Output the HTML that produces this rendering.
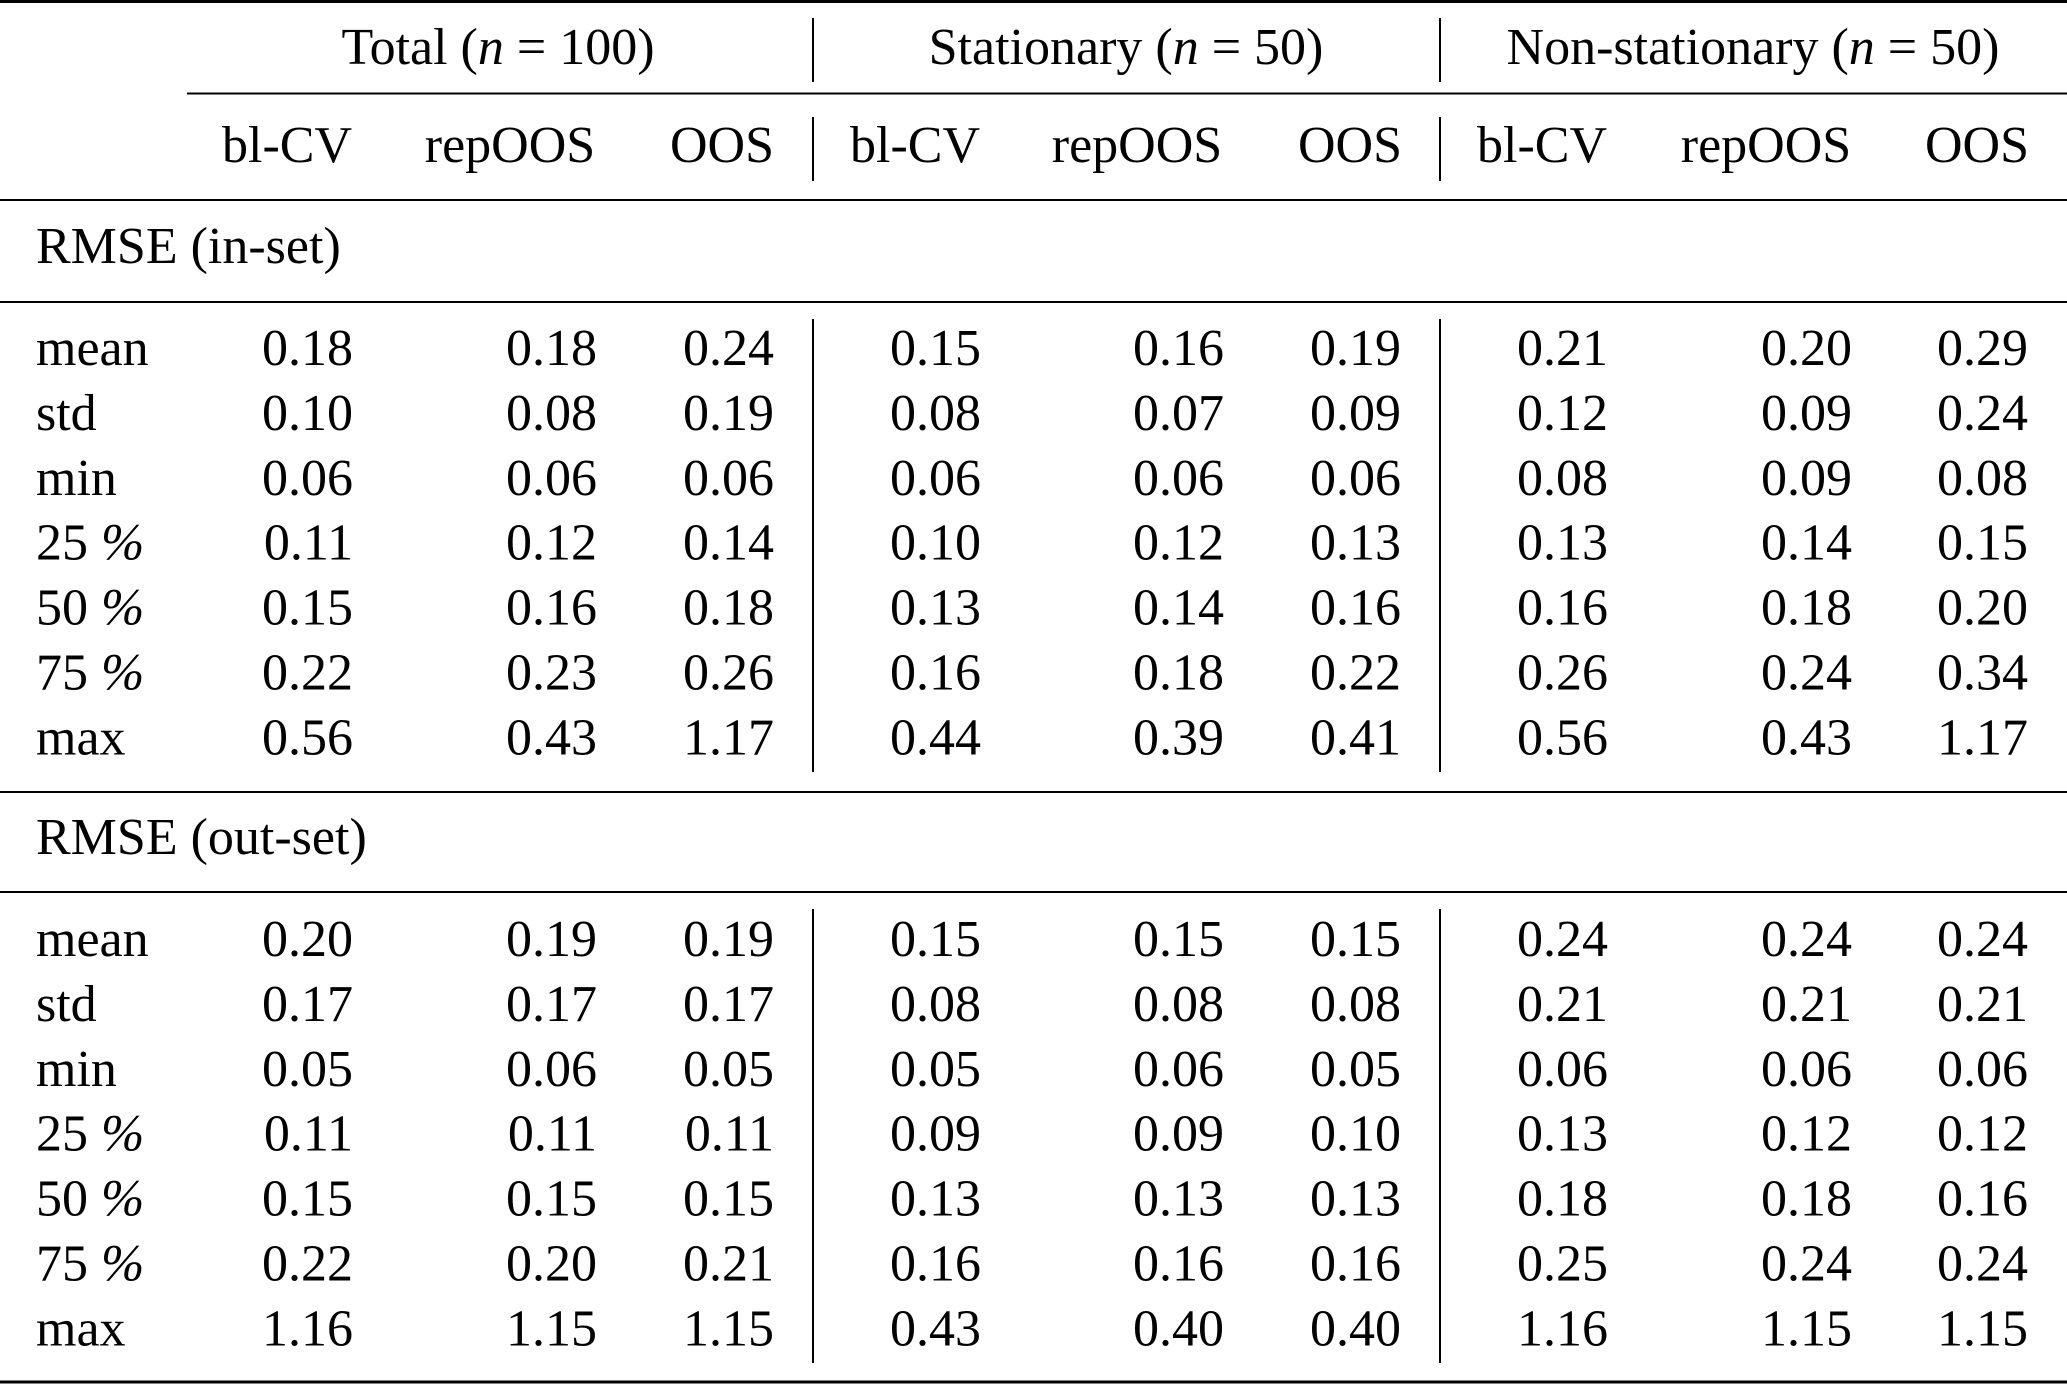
<!DOCTYPE html>
<html><head><meta charset="utf-8"><style>
html,body{margin:0;padding:0;background:#fff;}
svg{display:block;}
text{font-family:"Liberation Serif",serif;font-size:52px;fill:#000;}
.e{text-anchor:end}.m{text-anchor:middle}
</style></head><body>
<svg width="2067" height="1384" xmlns="http://www.w3.org/2000/svg">
<g stroke="#000">
<line x1="0" y1="1.5" x2="2067" y2="1.5" stroke-width="3"/>
<line x1="187" y1="93.5" x2="2067" y2="93.5" stroke-width="2"/>
<line x1="0" y1="200" x2="2067" y2="200" stroke-width="2"/>
<line x1="0" y1="302" x2="2067" y2="302" stroke-width="2"/>
<line x1="0" y1="792" x2="2067" y2="792" stroke-width="2"/>
<line x1="0" y1="892" x2="2067" y2="892" stroke-width="2"/>
<line x1="0" y1="1382" x2="2067" y2="1382" stroke-width="3"/>
<g stroke-width="2">
<line x1="813" y1="18" x2="813" y2="82"/><line x1="1440" y1="18" x2="1440" y2="82"/>
<line x1="813" y1="117" x2="813" y2="181"/><line x1="1440" y1="117" x2="1440" y2="181"/>
<line x1="813" y1="319" x2="813" y2="772"/><line x1="1440" y1="319" x2="1440" y2="772"/>
<line x1="813" y1="909" x2="813" y2="1363"/><line x1="1440" y1="909" x2="1440" y2="1363"/>
</g></g>
<text class="m" x="498" y="64">Total (<tspan font-style="italic">n</tspan> = 100)</text>
<text class="m" x="1126" y="64">Stationary (<tspan font-style="italic">n</tspan> = 50)</text>
<text class="m" x="1753" y="64">Non-stationary (<tspan font-style="italic">n</tspan> = 50)</text>
<g class="m">
<text class="m" x="287" y="162">bl-CV</text><text class="m" x="510" y="162">repOOS</text><text class="m" x="722" y="162">OOS</text>
<text class="m" x="915" y="162">bl-CV</text><text class="m" x="1137" y="162">repOOS</text><text class="m" x="1350" y="162">OOS</text>
<text class="m" x="1542" y="162">bl-CV</text><text class="m" x="1766" y="162">repOOS</text><text class="m" x="1977" y="162">OOS</text>
</g>
<text x="36" y="263">RMSE (in-set)</text>
<text x="36" y="854">RMSE (out-set)</text>
<g id="rows"></g>
</svg>
<script>
var xs=[353,597,774,981,1224,1401,1608,1852,2028];
var labels=['mean','std','min','25 <i>%</i>','50 <i>%</i>','75 <i>%</i>','max'];
var A=[
"0.18 0.18 0.24 0.15 0.16 0.19 0.21 0.20 0.29",
"0.10 0.08 0.19 0.08 0.07 0.09 0.12 0.09 0.24",
"0.06 0.06 0.06 0.06 0.06 0.06 0.08 0.09 0.08",
"0.11 0.12 0.14 0.10 0.12 0.13 0.13 0.14 0.15",
"0.15 0.16 0.18 0.13 0.14 0.16 0.16 0.18 0.20",
"0.22 0.23 0.26 0.16 0.18 0.22 0.26 0.24 0.34",
"0.56 0.43 1.17 0.44 0.39 0.41 0.56 0.43 1.17"];
var B=[
"0.20 0.19 0.19 0.15 0.15 0.15 0.24 0.24 0.24",
"0.17 0.17 0.17 0.08 0.08 0.08 0.21 0.21 0.21",
"0.05 0.06 0.05 0.05 0.06 0.05 0.06 0.06 0.06",
"0.11 0.11 0.11 0.09 0.09 0.10 0.13 0.12 0.12",
"0.15 0.15 0.15 0.13 0.13 0.13 0.18 0.18 0.16",
"0.22 0.20 0.21 0.16 0.16 0.16 0.25 0.24 0.24",
"1.16 1.15 1.15 0.43 0.40 0.40 1.16 1.15 1.15"];
var s='';
function blk(D,y0){for(var r=0;r<7;r++){var y=y0+r*64.9;
var l=labels[r].replace('<i>%</i>','<tspan font-style="italic">%</tspan>');
s+='<text x="36" y="'+y+'">'+l+'</text>';
var v=D[r].split(' ');for(var c=0;c<9;c++)s+='<text class="e" x="'+xs[c]+'" y="'+y+'">'+v[c]+'</text>';}}
blk(A,365);blk(B,956);
document.getElementById('rows').innerHTML=s;
</script>
</body></html>
